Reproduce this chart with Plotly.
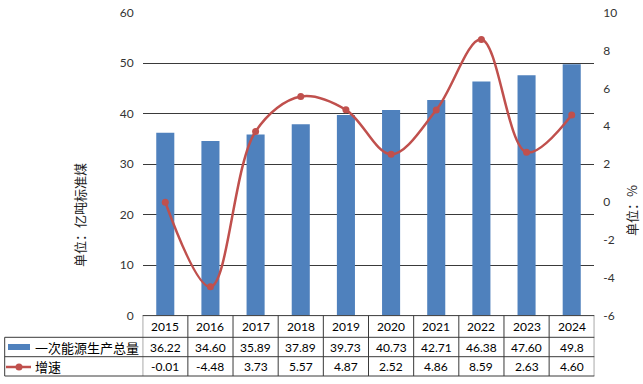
import plotly.graph_objects as go

years = ["2015", "2016", "2017", "2018", "2019", "2020", "2021", "2022", "2023", "2024"]
production = [36.22, 34.60, 35.89, 37.89, 39.73, 40.73, 42.71, 46.38, 47.60, 49.8]
production_labels = ["36.22", "34.60", "35.89", "37.89", "39.73", "40.73", "42.71", "46.38", "47.60", "49.8"]
growth = [-0.01, -4.48, 3.73, 5.57, 4.87, 2.52, 4.86, 8.59, 2.63, 4.60]
growth_labels = ["-0.01", "-4.48", "3.73", "5.57", "4.87", "2.52", "4.86", "8.59", "2.63", "4.60"]
right_tick_vals = [-6, -4, -2, 0, 2, 4, 6, 8, 10]
right_tick_text = ["-6", "-4", "-2", "0", "2", "4", "6", "8", "10"]
series_names = ["一次能源生产总量", "增速"]
left_title = "单位：亿吨标准煤"
right_title = "单位：%"

W, H = 643, 384
BLUE = "#4F81BD"
RED = "#C0504D"
GRID = "#3a3a3a"
FONT = "Lato, Noto Sans CJK SC, sans-serif"
CJK = "Noto Sans CJK SC, sans-serif"

px_x = lambda p: p / W
px_y = lambda p: (H - p) / H

x_left, x_right = 142.7, 594.3
y_top, y_bot = 12.7, 315.6

fig = go.Figure()
fig.add_trace(go.Bar(x=years, y=production, name=series_names[0], marker=dict(color=BLUE, line=dict(width=0)),
                     width=0.4, yaxis="y"))
fig.add_trace(go.Scatter(x=years, y=growth, name=series_names[1], mode="lines+markers",
                         line=dict(color=RED, width=2.5, shape="spline", smoothing=1),
                         marker=dict(color=RED, size=7), yaxis="y2"))

shapes = []
annotations = []
row_tops = [315.6, 337.3, 356.7, 376.0]
# horizontal table lines
shapes.append(dict(type="line", xref="paper", yref="paper", x0=px_x(x_left), x1=px_x(x_right),
                   y0=px_y(row_tops[0]), y1=px_y(row_tops[0]), line=dict(color=GRID, width=1)))
for r in row_tops[1:]:
    shapes.append(dict(type="line", xref="paper", yref="paper", x0=px_x(4.7), x1=px_x(x_right),
                       y0=px_y(r), y1=px_y(r), line=dict(color=GRID, width=1)))
# vertical table lines
for i in range(len(years) + 1):
    shapes.append(dict(type="line", xref="x", yref="paper", x0=i - 0.5, x1=i - 0.5,
                       y0=px_y(row_tops[0]), y1=px_y(row_tops[3]), line=dict(color=GRID, width=1)))
shapes.append(dict(type="line", xref="paper", yref="paper", x0=px_x(4.7), x1=px_x(4.7),
                   y0=px_y(row_tops[1]), y1=px_y(row_tops[3]), line=dict(color=GRID, width=1)))
# legend keys
shapes.append(dict(type="rect", xref="paper", yref="paper", x0=px_x(8), x1=px_x(30),
                   y0=px_y(350), y1=px_y(344), fillcolor=BLUE, line=dict(width=0)))
shapes.append(dict(type="line", xref="paper", yref="paper", x0=px_x(6), x1=px_x(31),
                   y0=px_y(367), y1=px_y(367), line=dict(color=RED, width=2.5)))
shapes.append(dict(type="circle", xref="paper", yref="paper", x0=px_x(15.5), x1=px_x(22.5),
                   y0=px_y(370.5), y1=px_y(363.5), fillcolor=RED, line=dict(width=0)))

mid = lambda a, b: px_y((a + b) / 2)
def ann(**kw):
    base = dict(showarrow=False, xanchor="center", yanchor="middle")
    base.update(kw)
    annotations.append(base)

for i, yr in enumerate(years):
    ann(x=i, y=mid(row_tops[0], row_tops[1]), xref="x", yref="paper", text=yr,
        font=dict(family=FONT, size=12, color="#000"))
    ann(x=i, y=mid(row_tops[1], row_tops[2]), xref="x", yref="paper", text=production_labels[i],
        font=dict(family=FONT, size=12, color="#000"))
    ann(x=i, y=mid(row_tops[2], row_tops[3]), xref="x", yref="paper", text=growth_labels[i],
        font=dict(family=FONT, size=12, color="#000"))
ann(x=px_x(33), y=mid(row_tops[1], row_tops[2]), xref="paper", yref="paper", text=series_names[0],
    xanchor="left", font=dict(family=CJK, size=13, color="#000"))
ann(x=px_x(33), y=mid(row_tops[2], row_tops[3]), xref="paper", yref="paper", text=series_names[1],
    xanchor="left", font=dict(family=CJK, size=13, color="#000"))
ann(x=px_x(80), y=px_y(215), xref="paper", yref="paper", text=left_title, textangle=-90,
    font=dict(family=CJK, size=13, color="#222"))
ann(x=px_x(631), y=px_y(211), xref="paper", yref="paper", text=right_title, textangle=-90,
    font=dict(family=CJK, size=13, color="#222"))

fig.update_layout(
    width=W, height=H, margin=dict(l=0, r=0, t=0, b=0, pad=0),
    paper_bgcolor="white", plot_bgcolor="white", showlegend=False,
    xaxis=dict(domain=[px_x(x_left), px_x(x_right)], range=[-0.5, 9.5], type="category",
               showticklabels=False, showgrid=False, zeroline=False, showline=False, ticks="",
               automargin=False),
    yaxis=dict(domain=[px_y(y_bot), px_y(y_top)], range=[0, 60], dtick=10, showgrid=True,
               gridcolor=GRID, gridwidth=1, zeroline=False, showline=False, ticks="",
               ticklabelstandoff=8, automargin=False, tickfont=dict(family=FONT, size=12, color="#333")),
    yaxis2=dict(overlaying="y", side="right", range=[-6, 10], tickmode="array",
                tickvals=right_tick_vals, ticktext=right_tick_text, showgrid=False,
                zeroline=False, showline=False, ticks="", ticklabelstandoff=8, automargin=False,
                tickfont=dict(family=FONT, size=12, color="#333")),
    shapes=shapes, annotations=annotations,
)

fig.write_html("out.html", config={"displayModeBar": False},
               post_script="document.body.style.margin='0';document.body.style.padding='0';")
